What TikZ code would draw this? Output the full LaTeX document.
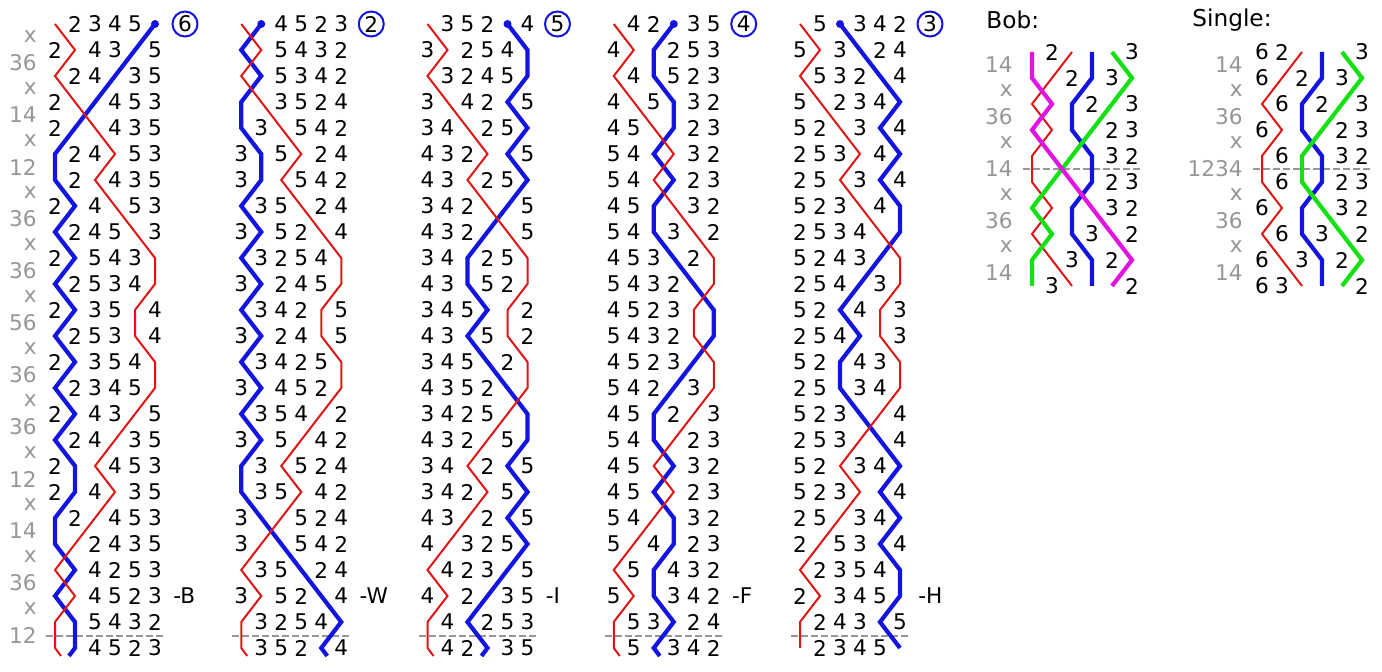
\documentclass[tikz,border=0pt]{standalone}
\usepackage{fontspec}
\setmainfont{DejaVu Sans}
\usepackage{xcolor}
\usepackage{tikz}
\usetikzlibrary{arrows}
\usetikzlibrary{calc}

\definecolor{treblered}{RGB}{225,20,20}
\definecolor{heavyblue}{RGB}{20,20,225}
\definecolor{bobgreen}{RGB}{20,225,20}
\definecolor{bobpink}{RGB}{225,20,225}
\definecolor{pngray}{RGB}{150,150,150}

% rows are six tokens: digits are printed, letters are lines
\def\bellat#1#2{\expandafter\bellatx\expandafter#1#2}
\def\bellatx#1#2#3#4#5#6#7{\ifcase#1\or#2\or#3\or#4\or#5\or#6\or#7\fi}
\def\permrow#1#2#3#4#5#6{\xdef\currow{\bellat#1\currow\bellat#2\currow\bellat#3\currow\bellat#4\currow\bellat#5\currow\bellat#6\currow}}
\def\change#1{\csname pn@#1\endcsname}
\expandafter\def\csname pn@x\endcsname{\permrow214365}
\expandafter\def\csname pn@36\endcsname{\permrow213546}
\expandafter\def\csname pn@14\endcsname{\permrow132465}
\expandafter\def\csname pn@12\endcsname{\permrow124365}
\expandafter\def\csname pn@56\endcsname{\permrow214356}
\expandafter\def\csname pn@1234\endcsname{\permrow123465}
\expandafter\def\csname pn@-\endcsname{}
\def\leadpn{1/x,2/36,3/x,4/14,5/x,6/12,7/x,8/36,9/x,10/36,11/x,12/56,13/x,14/36,15/x,16/36,17/x,18/12,19/x,20/14,21/x,22/36,23/x,24/12,25/-}

\begin{document}
\begin{tikzpicture}[x=0.5pt,y=-0.5pt]
\fontsize{10.8}{13}\selectfont
\tikzstyle{bellno}=[inner sep=0pt]
\tikzstyle{pnlabel}=[inner sep=0pt, anchor=east, text=pngray]
\tikzstyle{calllabel}=[inner sep=0pt, anchor=west]
\tikzstyle{title}=[inner sep=0pt, anchor=west, font=\fontsize{11.6}{14}\selectfont]
\tikzstyle{startbell}=[circle, draw=heavyblue, line width=1pt, minimum size=12.5pt, inner sep=0pt]
\tikzstyle{trebleline}=[draw=treblered, line width=1pt]
\tikzstyle{heavyline}=[draw=heavyblue, line width=2.1pt]
\tikzstyle{greenline}=[draw=bobgreen, line width=2.1pt]
\tikzstyle{pinkline}=[draw=bobpink, line width=2.1pt]
\tikzstyle{leadend}=[draw=pngray, line width=0.7pt, dash pattern=on 3.5pt off 1.5pt]
\useasboundingbox (0,0) rectangle (1382,672);

% place notation down the left
\foreach \k/\pn in \leadpn
   {
    \ifnum\k<25 \node[pnlabel] (pn\k) at (37,11+26*\k) {\pn}; \fi
   }

% plain course, one lead per column
\xdef\currow{t2345h}
\foreach \col/\call/\start in {1/B/6,2/W/2,3/I/5,4/F/4,5/H/3}
       {
        \pgfmathsetmacro\ox{55+186.25*(\col-1)}
        \foreach \r/\pn in \leadpn
           {
            \pgfmathsetmacro\ry{24+26*(\r-1)}
            \foreach \i in {1,...,6}
               {
                \edef\bell{\bellat\i\currow}
                \ifcat\bell a
                    \coordinate (\bell\col-\r) at (\ox+20*\i-20,\ry);
                    \ifnum\r=25
                        \pgfmathsetmacro\ext{(\col<5)*(6-12*(1-mod(\i,2)))}
                        \pgfmathsetmacro\exty{(\col<5)*8}
                        \coordinate (\bell\col-end) at (\ox+20*\i-20+\ext,\ry+\exty);
                    \fi
                \else
                    \node[bellno] (n\col-\r-\i) at (\ox+20*\i-20,\ry) {\bell};
                \fi
               }
            \change\pn
           }
        \draw[leadend] (\ox-9,636) -- (\ox+108,636);
        \draw[heavyline] (h\col-1) \foreach \r in {2,...,25}{-- (h\col-\r)} -- (h\col-end);
        \draw[trebleline] (t\col-1) \foreach \r in {2,...,25}{-- (t\col-\r)} -- (t\col-end);
        \fill[heavyblue] (h\col-1) circle (2pt);
        \node[startbell] (s\col) at (\ox+130,24) {\start};
        \node[calllabel] (c\col) at (\ox+118,596) {-\call};
       }

% bob
\node[title] (bobtitle) at (986,20) {Bob:};
\xdef\currow{m2rbg3}
\foreach \r/\pn in {1/14,2/x,3/36,4/x,5/14,6/x,7/36,8/x,9/14,10/-}
   {
    \pgfmathsetmacro\ry{52+26*(\r-1)}
    \foreach \i in {1,...,6}
       {
        \edef\bell{\bellat\i\currow}
        \ifcat\bell a
            \coordinate (b\bell-\r) at (1012+20*\i,\ry);
        \else
            \node[bellno] (bn\r-\i) at (1012+20*\i,\ry) {\bell};
        \fi
       }
    \ifnum\r<10 \node[pnlabel] (bp\r) at (1013,\ry+13) {\pn}; \fi
    \change\pn
   }
\draw[leadend] (1023,169) -- (1140,169);
\draw[trebleline] (br-1) \foreach \r in {2,...,10}{-- (br-\r)};
\draw[heavyline] (bb-1) \foreach \r in {2,...,10}{-- (bb-\r)};
\draw[greenline] (bg-1) \foreach \r in {2,...,10}{-- (bg-\r)};
\draw[pinkline] (bm-1) \foreach \r in {2,...,10}{-- (bm-\r)};

% single
\node[title] (singletitle) at (1192,20) {Single:};
\xdef\currow{62rbg3}
\foreach \r/\pn in {1/14,2/x,3/36,4/x,5/1234,6/x,7/36,8/x,9/14,10/-}
   {
    \pgfmathsetmacro\ry{52+26*(\r-1)}
    \foreach \i in {1,...,6}
       {
        \edef\bell{\bellat\i\currow}
        \ifcat\bell a
            \coordinate (s\bell-\r) at (1242+20*\i,\ry);
        \else
            \node[bellno] (sn\r-\i) at (1242+20*\i,\ry) {\bell};
        \fi
       }
    \ifnum\r<10 \node[pnlabel] (sp\r) at (1243,\ry+13) {\pn}; \fi
    \change\pn
   }
\draw[leadend] (1253,169) -- (1370,169);
\draw[trebleline] (sr-1) \foreach \r in {2,...,10}{-- (sr-\r)};
\draw[heavyline] (sb-1) \foreach \r in {2,...,10}{-- (sb-\r)};
\draw[greenline] (sg-1) \foreach \r in {2,...,10}{-- (sg-\r)};
\end{tikzpicture}
\end{document}
